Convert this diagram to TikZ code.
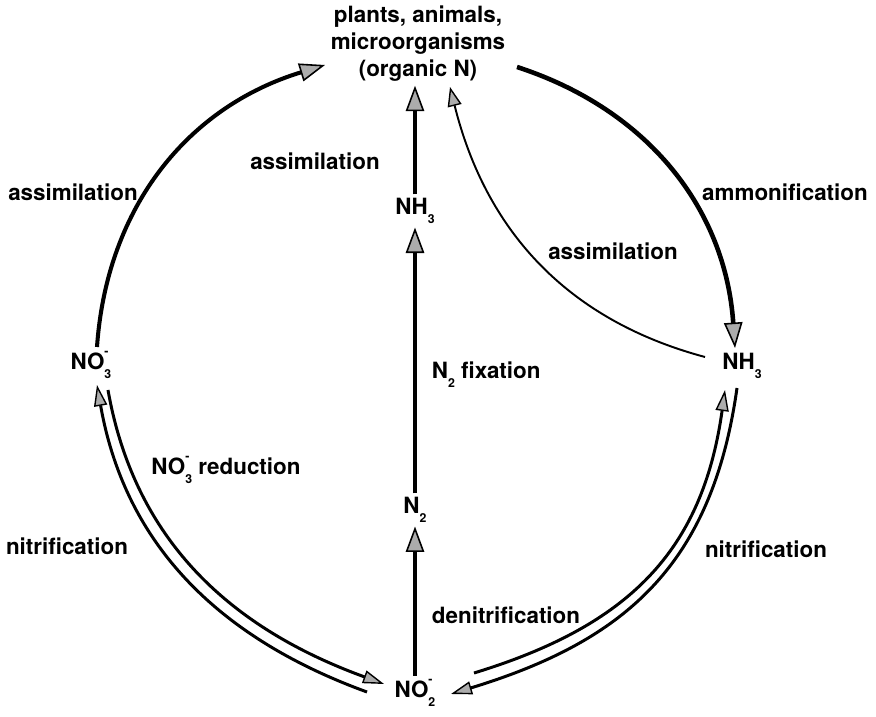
\documentclass[tikz,border=0pt]{standalone}
\usepackage{fontspec}
\setmainfont{TeX Gyre Heros}
\usetikzlibrary{positioning, arrows.meta, calc}

% ion with stacked charge and index
\newcommand\ionname[3]{#1\rlap{\raisebox{0.62em}{\scriptsize #3}}\raisebox{-0.4em}{\scriptsize #2}}
\newcommand\idx[1]{\raisebox{-0.4em}{\scriptsize #1}}

\tikzset{
  every node/.style={font=\bfseries\fontsize{12.75}{15.4}\selectfont, inner sep=2pt},
  headtip/.style={-{Triangle[length=14.5pt, width=10.5pt, fill=gray!65, line width=0.9pt]}},
  mainarrow/.style={headtip, line width=2.3pt},
  thinarrow/.style={-{Triangle[length=11pt, width=8pt, fill=gray!65, line width=0.8pt]}, line width=1.1pt},
  pairarrow/.style={-{Triangle[length=12pt, width=7.5pt, fill=gray!65, line width=0.8pt]}, line width=1.7pt},
}

\begin{document}
\begin{tikzpicture}[x=0.02cm, y=0.02cm]
\useasboundingbox (0,0) rectangle (876,717);

% pools of nitrogen
\node[align=center] (orgN) at (418,673) {plants, animals,\\microorganisms\\(organic N)};
\node (nh3c) at (415,506) {NH\idx{3}};
\node (n2) at (415,207) {N\idx{2}};
\node (no2) at (415,24) {\ionname{NO}{2}{-}};
\node (no3) at (91,352) {\ionname{NO}{3}{-}};
\node (nh3r) at (742,351) {NH\idx{3}};

% process names
\node (lAssimL) at (73,525) {assimilation};
\node (lAssimC) at (315,556) {assimilation};
\node (lAmmon) at (785,525) {ammonification};
\node (lAssimR) at (613,466) {assimilation};
\node[anchor=west] (lFix) at (428,342) {N\idx{2} fixation};
\node (lRed) at (226,247) {\ionname{NO}{3}{-} reduction};
\node (lNitL) at (67,171) {nitrification};
\node (lDenit) at (506,102) {denitrification};
\node (lNitR) at (766,168) {nitrification};

% central column
\draw[mainarrow] (no2) -- (n2);
\draw[mainarrow] (n2) -- (nh3c);
\draw[mainarrow] (nh3c) -- (nh3c |- orgN.south);

% outer cycle
\draw[mainarrow] ($(no3)+(6,18)$) to[out=86, in=197] ($(orgN)+(-93,-21)$);
\draw[mainarrow, line width=2.6pt] ($(orgN)+(99,-23)$) to[out=-18, in=94] ($(nh3r)+(-7,18)$);
\draw[thinarrow] ($(nh3r)+(-37,9)$) to[out=165, in=-76] ($(orgN)+(32,-43)$);

% paired arrows
\draw[pairarrow] ($(no2)+(-48,1)$) to[out=160, in=-80] ($(no3)+(6,-20)$);
\draw[pairarrow] ($(no3)+(17,-25)$) to[out=-80, in=160] ($(no2)+(-31,9)$);
\draw[pairarrow] ($(nh3r)+(-5,-22)$) to[out=-98, in=17, looseness=1.1] ($(no2)+(36,-1)$);
\draw[pairarrow] ($(no2)+(59,20)$) to[out=17, in=-98, looseness=1.1] ($(nh3r)+(-17,-24)$);
\end{tikzpicture}
\end{document}
